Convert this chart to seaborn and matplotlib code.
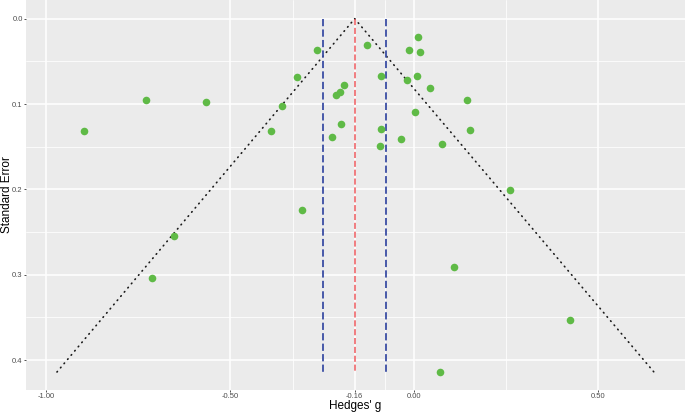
import numpy as np
import pandas as pd
import matplotlib
matplotlib.use("Agg")
import matplotlib.pyplot as plt
import seaborn as sns

# ---- data ----
hedges_g = [-0.897, -0.728, -0.566, -0.264, -0.318, -0.359, -0.390, -0.191,
            -0.202, -0.213, -0.200, -0.223, -0.306, -0.1285, 0.009, -0.015,
            0.016, -0.091, 0.008, -0.021, 0.042, 0.144, 0.001, -0.0897,
            -0.036, -0.093, 0.076, 0.1505, 0.261, -0.653, -0.713, 0.107,
            0.071, 0.423]
std_err = [0.132, 0.0953, 0.098, 0.0367, 0.068, 0.1027, 0.132, 0.078,
           0.0863, 0.0894, 0.1238, 0.139, 0.2246, 0.0305, 0.0218, 0.037,
           0.039, 0.0675, 0.0668, 0.0718, 0.0808, 0.0953, 0.109, 0.129,
           0.1406, 0.1496, 0.147, 0.1308, 0.201, 0.255, 0.304, 0.291,
           0.414, 0.3535]

pooled = -0.162
ci_low, ci_high = -0.248, -0.077
funnel_x = [-0.971, -0.162, 0.651]
funnel_se = [0.414, 0.0, 0.414]
se_max = 0.414

x_breaks = [-1.0, -0.5, -0.162, 0.0, 0.5]
x_labels = ["-1.00", "-0.50", "-0.16", "0.00", "0.50"]
x_minor = [-0.33, -0.08, 0.25]
y_breaks = [0.0, 0.1, 0.2, 0.3, 0.4]
y_labels = ["0.0", "0.1", "0.2", "0.3", "0.4"]
y_minor = [0.05, 0.15, 0.25, 0.35]

df = pd.DataFrame({"g": hedges_g, "se": std_err})

sns.set_theme(style="darkgrid")
plt.rcParams["font.family"] = ["Liberation Sans", "DejaVu Sans"]

fig = plt.figure(figsize=(6.85, 4.13), dpi=100)
ax = fig.add_axes([26 / 685, 1 - 390 / 413, 659 / 685, 390 / 413])
ax.set_facecolor("#EBEBEB")
ax.grid(False)
for s in ax.spines.values():
    s.set_visible(False)

# gridlines
for v in x_breaks:
    ax.axvline(v, color="white", lw=1.1, zorder=0)
for v in x_minor:
    ax.axvline(v, color="white", lw=0.55, zorder=0)
for v in y_breaks:
    ax.axhline(v, color="white", lw=1.1, zorder=0)
for v in y_minor:
    ax.axhline(v, color="white", lw=0.55, zorder=0)

# funnel
ax.plot(funnel_x, funnel_se, color="#1a1a1a", lw=1.2, linestyle=(0, (0.4, 2.9)),
        dash_capstyle="round", zorder=2)
ax.vlines([ci_low, ci_high], 0, se_max, colors="#3A4DA3", lw=1.3,
          linestyles=[(0, (4, 1.8))], zorder=2)
ax.vlines([pooled], 0, se_max, colors="#EE5A5E", lw=1.1,
          linestyles=[(0, (4, 1.8))], zorder=2)

sns.scatterplot(data=df, x="g", y="se", color="#5FBA46", s=30, linewidth=0,
                ax=ax, zorder=3)

ax.set_xlim(-1.0552, 0.7355)
ax.set_ylim(0.4351, -0.0219)
ax.set_xticks(x_breaks)
ax.set_xticklabels(x_labels)
ax.set_yticks(y_breaks)
ax.set_yticklabels(y_labels)
ax.tick_params(axis="both", which="major", length=1.6, width=0.6,
               color="#333333", labelsize=5.5, labelcolor="#4D4D4D", pad=0.8,
               bottom=True, left=True)
ax.set_xlabel("Hedges' g", fontsize=8.5, color="black")
ax.set_ylabel("Standard Error", fontsize=8.5, color="black")
ax.xaxis.set_label_coords(0.5, (390 - 406) / 390)
ax.xaxis.label.set_va("center")
ax.yaxis.set_label_coords((7 - 26) / 659, 0.5)
ax.yaxis.label.set_va("center")

fig.savefig("out.png", dpi=100)
